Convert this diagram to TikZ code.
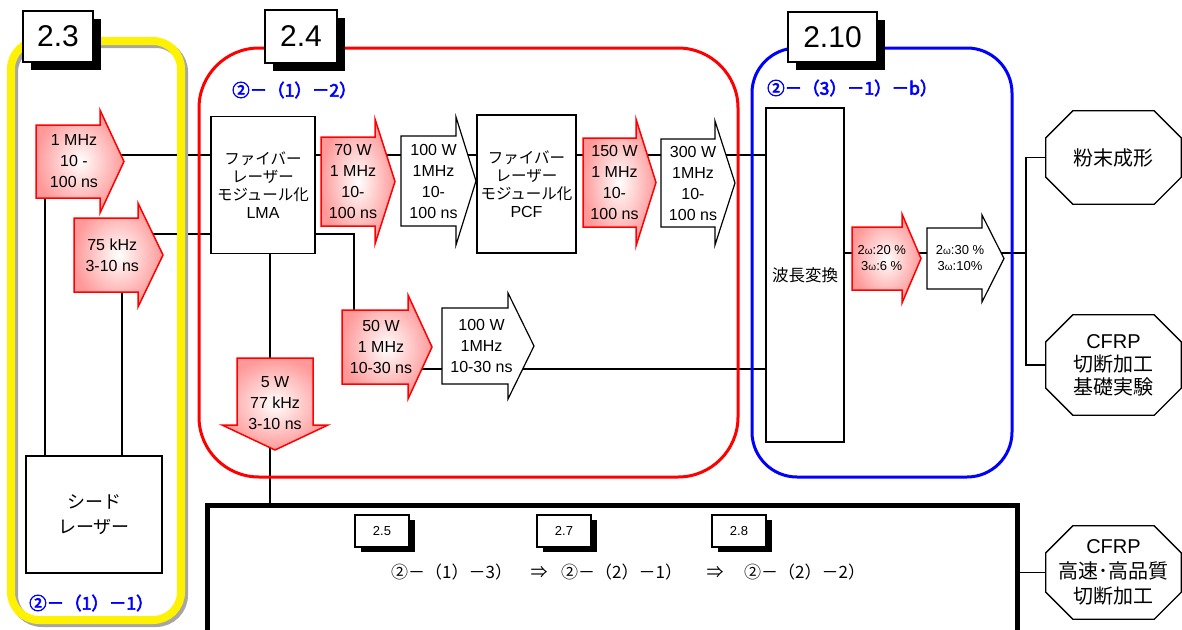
\documentclass[tikz,border=0pt]{standalone}
\usepackage{fontspec}
\setmainfont{Liberation Sans}
\newfontfamily\jp[AutoFakeBold=3.5]{Noto Sans CJK JP}
\usetikzlibrary{shadows}

\pgfdeclarelayer{bg}
\pgfdeclarelayer{fg}
\pgfsetlayers{bg,main,fg}

\newcommand\om{{\fontsize{10}{10}\selectfont ω}}
\newcommand\bigarrow[9]{%
  \path[#2] (#3,#4) -- (#5,#4) -- (#5,#4-#7) -- (#8,{(#4+#6)/2})
    -- (#5,#6+#7) -- (#5,#6) -- (#3,#6) -- cycle;
  \node[arrowtext] (#1) at ({(2*#3+#5+#8)/4},{(#4+#6)/2}) {#9};
}
\newcommand\octagon[1]{%
  \draw[wire] ([xshift=27pt]#1.north west) -- ([xshift=-27pt]#1.north east)
    -- ([yshift=-27pt]#1.north east) -- ([yshift=27pt]#1.south east)
    -- ([xshift=-27pt]#1.south east) -- ([xshift=27pt]#1.south west)
    -- ([yshift=27pt]#1.south west) -- ([yshift=-27pt]#1.north west) -- cycle;
}

\tikzset{
  wire/.style={line width=1.3pt},
  box/.style={draw, fill=white, line width=1.3pt, align=center, inner sep=0pt},
  jptext/.style={font=\jp\fontsize{15.5}{18}\selectfont},
  arrowtext/.style={align=center, inner sep=0pt, font=\fontsize{16}{21}\selectfont},
  redarrow/.style={draw=red, line width=1.5pt, inner color=white, outer color=red!40},
  whitearrow/.style={draw=black, line width=1.2pt, fill=white},
  goal/.style={minimum width=135pt, inner sep=0pt, align=center, font=\jp\fontsize{20}{23}\selectfont},
  tag/.style={draw, fill=white, line width=1.5pt, font=\fontsize{30}{30}\selectfont,
    drop shadow={shadow xshift=8pt, shadow yshift=-8pt, fill=black, opacity=1}},
  subtag/.style={draw, fill=white, line width=1.3pt, minimum width=54pt, minimum height=32pt,
    font=\fontsize{13}{13}\selectfont,
    drop shadow={shadow xshift=6pt, shadow yshift=-5pt, fill=black, opacity=1}},
  item/.style={text=blue, inner sep=0pt, anchor=west, font=\jp\bfseries\fontsize{17.5}{17.5}\selectfont},
  step row/.style={inner sep=0pt, font=\jp\fontsize{17}{17}\selectfont},
}

\begin{document}
\begin{tikzpicture}[x=1pt, y=-1pt]
  \useasboundingbox (0,0) rectangle (1182,629);

  \node[box, minimum width=136pt, minimum height=117pt, font=\jp\fontsize{18}{25}\selectfont] (seed) at (94,514.5) {シード\\レーザー};
  \node[box, jptext, minimum width=104pt, minimum height=137pt] (lma) at (263,185) {ファイバー\\レーザー\\モジュール化\\{\rmfamily\fontsize{16}{18}\selectfont LMA}};
  \node[box, jptext, minimum width=99pt, minimum height=138pt] (pcf) at (526.5,184) {ファイバー\\レーザー\\モジュール化\\{\rmfamily\fontsize{16}{18}\selectfont PCF}};
  \node[box, minimum width=78pt, minimum height=334pt, font=\jp\fontsize{16.5}{18}\selectfont] (wl) at (805,275) {波長変換};

  \node[goal, minimum height=93pt] (powder) at (1113.5,157.5) {粉末成形};
  \node[goal, minimum height=100pt] (cutbase) at (1113.5,365) {{\rmfamily CFRP}\\切断加工\\基礎実験};
  \node[goal, minimum height=93pt, font=\jp\fontsize{20}{25}\selectfont] (cutfast) at (1113.5,572.5) {{\rmfamily CFRP}\\高速･高品質\\切断加工};

  \bigarrow{a1}{redarrow}{36}{125}{100}{198}{15}{124}{1 MHz\\10 -\\100 ns}
  \bigarrow{a2}{redarrow}{74}{218}{138}{292}{15}{163}{75 kHz\\3-10 ns}
  \bigarrow{a70}{redarrow}{321}{137}{375}{226}{18}{395}{70 W\\1 MHz\\10-\\100 ns}
  \bigarrow{a100}{whitearrow}{401}{136}{456}{226}{19}{476}{100 W\\1MHz\\10-\\100 ns}
  \bigarrow{a150}{redarrow}{583}{138}{636}{227}{19}{656}{150 W\\1 MHz\\10-\\100 ns}
  \bigarrow{a300}{whitearrow}{661}{139}{715}{227}{18}{735}{300 W\\1MHz\\10-\\100 ns}
  \bigarrow{a50}{redarrow}{342}{310}{408}{384}{15}{432}{50 W\\1 MHz\\10-30 ns}
  \bigarrow{a100b}{whitearrow}{442}{308}{508}{384}{15}{534}{100 W\\1MHz\\10-30 ns}
  \begin{scope}[arrowtext/.style={align=center, inner sep=0pt, font=\fontsize{13}{16}\selectfont}]
    \bigarrow{a20}{redarrow}{852}{227}{902}{290}{13}{921}{2\om:20 \%\\3\om:6 \%}
    \bigarrow{a30}{whitearrow}{927}{228}{982}{289}{13}{1004}{2\om:30 \%\\3\om:10\%}
  \end{scope}
  \path[redarrow] (237,358) -- (313,358) -- (313,425) -- (328,425) -- (275,450) -- (222,425) -- (237,425) -- cycle;
  \node[arrowtext] (a5) at (275,403) {5 W\\77 kHz\\3-10 ns};

  \node[draw, line width=5pt, minimum width=810pt, minimum height=160pt, anchor=north west, inner sep=0pt, outer sep=0pt] (stage) at (207,505) {};
  \node[subtag] (t25) at (382,531) {2.5};
  \node[subtag] (t27) at (564,531) {2.7};
  \node[subtag] (t28) at (739,531) {2.8};
  \node[step row, anchor=west] (r1) at (391,572) {②－（1）－3）};
  \node[step row] (r2) at (539,572) {⇒};
  \node[step row, anchor=west] (r3) at (561,572) {②－（2）－1）};
  \node[step row] (r4) at (715,572) {⇒};
  \node[step row, anchor=west] (r5) at (744,572) {②－（2）－2）};

  \begin{pgfonlayer}{bg}
    \coordinate (yhi) at (0,155);
    \coordinate (ylo) at (0,234);
    \coordinate (ymid) at (0,369);
    \coordinate (yout) at (0,253);
    \draw[wire] (a1 |- yhi) -- (wl.west |- yhi);
    \draw[wire] (a2 |- ylo) -- (lma.west |- ylo);
    \draw[wire] (lma.east |- ylo) -| (354,0 |- a50);
    \draw[wire] (270,0 |- lma.south) -- (270,0 |- stage.north);
    \draw[wire] (a50 |- ymid) -- (wl.west |- ymid);
    \draw[wire] (45,0 |- seed.north) -- (45,0 |- a1);
    \draw[wire] (122,0 |- seed.north) -- (122,0 |- a2);
    \draw[wire] (wl.east |- yout) -- (1026,0 |- yout);
    \draw[wire] (powder.west) -| (1026,0 |- cutbase.west) -- (cutbase.west);
    \draw[wire] (stage.east |- cutfast.west) -- (cutfast.west);
    \octagon{powder}
    \octagon{cutbase}
    \octagon{cutfast}
  \end{pgfonlayer}

  \begin{pgfonlayer}{fg}
    \draw[line width=8pt, gray!70, rounded corners=28pt] (14,44) rectangle (184,623);
    \draw[line width=8pt, yellow, rounded corners=28pt] (11,41) rectangle (181,620);
    \draw[line width=3pt, red, rounded corners=60pt] (199,48) rectangle (738,477);
    \draw[line width=3pt, blue, rounded corners=45pt] (752,48) rectangle (1012,477);
    \node[tag, minimum width=70pt, minimum height=51pt] (t23) at (58,36.5) {2.3};
    \node[tag, minimum width=72pt, minimum height=53pt] (t24) at (301,36.5) {2.4};
    \node[tag, minimum width=89pt, minimum height=50pt] (t210) at (832.5,37) {2.10};
    \node[item] (w1) at (29,603) {②－（1）－1）};
    \node[item] (w2) at (232,90) {②－（1）－2）};
    \node[item] (w3) at (767,88) {②－（3）－1）－b）};
  \end{pgfonlayer}
\end{tikzpicture}
\end{document}
